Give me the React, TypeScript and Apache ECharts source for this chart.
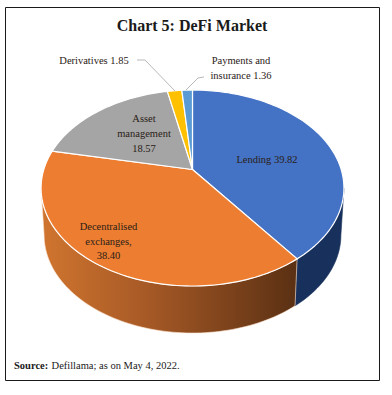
import React, { useEffect, useRef } from "react";
import * as echarts from "echarts";

const categories = ["Lending", "Decentralised exchanges", "Asset management", "Derivatives", "Payments and insurance"];
const values = [39.82, 38.4, 18.57, 1.85, 1.36];
const valueLabels = ["39.82", "38.40", "18.57", "1.85", "1.36"];
const topColors = ["#4472c4", "#ed7d31", "#a5a5a5", "#ffc000", "#5b9bd5"];

const SERIF = '"Liberation Serif", serif';
const total = values.reduce((a, b) => a + b, 0);

// Perspective projection of a unit circle on to the page
const CX = 192.5, CY = 169.5, RX = 148.7, RY = 94.5, K = 0.189;
const DEPTH = 47, BOTTOM_SCALE = 0.98;
const VISIBLE_FROM = 101, VISIBLE_TO = 259;

function project(deg: number): [number, number] {
  const a = (deg * Math.PI) / 180;
  const u = Math.sin(a), v = Math.cos(a);
  const w = 1 + K * v;
  return [CX + (RX * u) / w, CY - (RY * v) / w];
}
function lower(p: [number, number]): [number, number] {
  return [CX + (p[0] - CX) * BOTTOM_SCALE, p[1] + DEPTH];
}
function arc(from: number, to: number): [number, number][] {
  const n = Math.max(2, Math.ceil(Math.abs(to - from) / 1.5));
  const pts: [number, number][] = [];
  for (let i = 0; i <= n; i++) pts.push(project(from + ((to - from) * i) / n));
  return pts;
}
function startAngle(index: number) {
  let s = 0;
  for (let i = 0; i < index; i++) s += values[i];
  return (s / total) * 360;
}

const sideFills: any[] = [
  "#17305c",
  {
    type: "linear", x: 0, y: 0, x2: 1, y2: 0,
    colorStops: [
      { offset: 0, color: "#d0752f" },
      { offset: 0.4, color: "#a85a26" },
      { offset: 1, color: "#5a3013" },
    ],
  },
];
const sideStrokes = ["#17305c", "#fde3cf"];

const sideItem = (params: any, api: any) => {
  const i = params.dataIndex;
  const start = startAngle(i);
  const from = Math.max(start, VISIBLE_FROM);
  const to = Math.min(start + (api.value(0) / total) * 360, VISIBLE_TO);
  if (to <= from) return { type: "group", children: [] };
  const top = arc(from, to);
  const bottom = top.map(lower).reverse();
  return {
    type: "polygon",
    shape: { points: [...top, ...bottom] },
    style: { fill: sideFills[i], stroke: sideStrokes[i] || "none", lineWidth: 0.6 },
  };
};

const topItem = (params: any, api: any) => {
  const i = params.dataIndex;
  const from = startAngle(i);
  const to = from + (api.value(0) / total) * 360;
  return {
    type: "polygon",
    shape: { points: [[CX, CY], ...arc(from, to)] },
    style: { fill: topColors[i], stroke: "#ffffff", lineWidth: 1.2, lineJoin: "round" },
  };
};

const sliceLabel = (text: string, x: number, y: number) => ({
  type: "text",
  x,
  y,
  style: {
    text,
    align: "center",
    verticalAlign: "middle",
    font: `10.5px ${SERIF}`,
    fill: "#2a2016",
    lineHeight: 14.8,
  },
});

const App = () => {
  const ref = useRef<HTMLDivElement>(null);
  useEffect(() => {
    document.body.style.margin = "0";
    document.body.style.background = "#fff";
    const chart = echarts.init(ref.current!, null, { renderer: "svg" });
    const [lending, , , deriv] = categories;
    chart.setOption({
      animation: false,
      backgroundColor: "#ffffff",
      title: {
        text: "Chart 5: DeFi Market",
        left: 187, top: 12, textAlign: "center",
        textStyle: { fontFamily: SERIF, fontSize: 16, fontWeight: "bold", color: "#1a1a1a" },
      },
      series: [
        { type: "custom", coordinateSystem: "none", z: 1, silent: true, renderItem: sideItem, data: values.map((v) => [v]) },
        { type: "custom", coordinateSystem: "none", z: 2, silent: true, renderItem: topItem, data: values.map((v) => [v]) },
      ],
      graphic: [
        { type: "rect", shape: { x: 5.5, y: 7.5, width: 374, height: 373 }, style: { fill: "none", stroke: "#1a1a1a", lineWidth: 1 } },
        { type: "polyline", shape: { points: [[137, 60], [145, 60], [175, 91]] }, style: { fill: "none", stroke: "#a6a6a6", lineWidth: 0.8 } },
        { type: "polyline", shape: { points: [[204, 77], [198, 78], [186, 90]] }, style: { fill: "none", stroke: "#a6a6a6", lineWidth: 0.8 } },
        sliceLabel(`${deriv} ${valueLabels[3]}`, 94, 60),
        sliceLabel("Payments and\ninsurance " + valueLabels[4], 241, 68),
        sliceLabel("Asset\nmanagement\n" + valueLabels[2], 144, 133.5),
        sliceLabel(`${lending} ${valueLabels[0]}`, 267, 159),
        sliceLabel("Decentralised\nexchanges,\n" + valueLabels[1], 108.5, 241),
        {
          type: "text",
          x: 14,
          y: 365,
          style: {
            rich: { b: { font: `bold 10.5px ${SERIF}`, fill: "#1a1a1a" }, n: { font: `10.5px ${SERIF}`, fill: "#1a1a1a" } },
            text: "{b|Source:} {n|Defillama; as on May 4, 2022.}",
            verticalAlign: "middle",
          },
        },
      ].map((g: any) => ({ z: 5, ...g })),
    });
    return () => chart.dispose();
  }, []);
  return <div ref={ref} style={{ width: 392, height: 395 }} />;
};

export default App;
